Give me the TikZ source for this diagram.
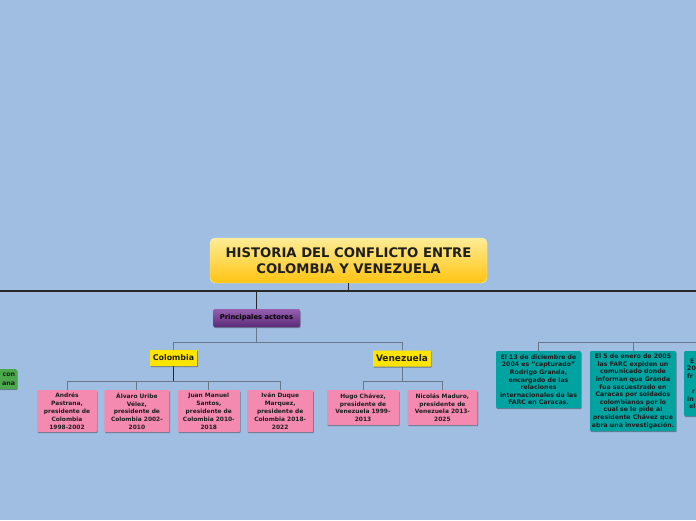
\documentclass[tikz,border=0pt]{standalone}
\usepackage{fontspec}
\setmainfont{DejaVu Sans}
\usetikzlibrary{positioning, shadows, calc}
\definecolor{mapbg}{RGB}{160,190,226}
\definecolor{titletop}{RGB}{255,236,150}
\definecolor{titlebot}{RGB}{255,196,18}
\definecolor{actorstop}{RGB}{150,96,176}
\definecolor{actorsbot}{RGB}{92,42,120}
\definecolor{countryyellow}{RGB}{255,228,0}
\definecolor{presidentpink}{RGB}{244,138,176}
\definecolor{eventteal}{RGB}{0,163,160}
\definecolor{sidegreen}{RGB}{76,168,76}
\definecolor{linedark}{RGB}{40,40,40}
\definecolor{linegray}{RGB}{104,120,138}
\definecolor{textdark}{RGB}{30,30,30}

\begin{document}
\begin{tikzpicture}[
    x=1pt, y=-1pt,
    node distance=7pt and 7pt,
    box/.style={rectangle, rounded corners=1pt, inner sep=1.5pt, align=center, text=textdark,
      font=\fontsize{5.9}{7.8}\selectfont\bfseries,
      drop shadow={shadow xshift=0.7pt, shadow yshift=-1pt, opacity=0.35, fill=black}},
    president/.style={box, fill=presidentpink, minimum height=42pt, anchor=north},
    event/.style={box, fill=eventteal, minimum width=86pt, anchor=north, font=\fontsize{6.2}{7.6}\selectfont\bfseries},
    country/.style={box, fill=countryyellow, rounded corners=0.5pt, minimum height=16pt, inner xsep=3pt},
    mainline/.style={draw=linedark, line width=1.4pt},
    conn/.style={draw=linegray, line width=1pt},
]

% Background and bounds
\fill[mapbg] (0,0) rectangle (696,520);
\useasboundingbox (0,0) rectangle (696,520);

% Title
\node[rectangle, rounded corners=5pt, top color=titletop, bottom color=titlebot, draw=titletop!80!white,
    minimum width=277pt, minimum height=45pt, align=center, text=textdark,
    font=\fontsize{13.2}{16.5}\selectfont\bfseries] (title) at (348.5,260.5)
    {HISTORIA DEL CONFLICTO ENTRE\\COLOMBIA Y VENEZUELA};

% Principales actores
\node[rectangle, rounded corners=2pt, top color=actorstop, bottom color=actorsbot,
    minimum width=87pt, minimum height=18pt, text=black, font=\fontsize{6.8}{8}\selectfont\bfseries,
    drop shadow={shadow xshift=0.7pt, shadow yshift=-1pt, opacity=0.35, fill=black}] (actors) at (256.5,318)
    {Principales actores};

% Countries
\node[country, font=\fontsize{7.9}{9}\selectfont\bfseries] (colombia) at (173.5,358) {Colombia};
\node[country, font=\fontsize{9}{10}\selectfont\bfseries] (venezuela) at (402,358.5) {Venezuela};

% Presidents of Colombia
\node[president, minimum width=60pt] (pastrana) at (67,390)
    {Andrés\\Pastrana,\\presidente de\\Colombia\\1998-2002};
\node[president, minimum width=65pt, right=7pt of pastrana] (uribe)
    {Álvaro Uribe\\Vélez,\\presidente de\\Colombia 2002-\\2010};
\node[president, minimum width=62pt, right=8pt of uribe] (santos)
    {Juan Manuel\\Santos,\\presidente de\\Colombia 2010-\\2018};
\node[president, minimum width=66pt, right=7pt of santos] (duque)
    {Iván Duque\\Marquez,\\presidente de\\Colombia 2018-\\2022};

% Presidents of Venezuela
\node[president, minimum width=72pt, minimum height=35pt] (chavez) at (363,390)
    {Hugo Chávez,\\presidente de\\Venezuela 1999-\\2013};
\node[president, minimum width=70pt, minimum height=35pt, right=8pt of chavez] (maduro)
    {Nicolás Maduro,\\presidente de\\Venezuela 2013-\\2025};

% Events
\node[event, minimum width=85pt, minimum height=57pt] (granda1) at (538.5,351)
    {El 13 de diciembre de\\2004 es "capturado"\\Rodrigo Granda,\\encargado de las\\relaciones\\internacionales de las\\FARC en Caracas.};
\node[event, minimum height=80pt] (granda2) at (633,351)
    {El 5 de enero de 2005\\las FARC expiden un\\comunicado donde\\informan que Granda\\fue secuestrado en\\Caracas por soldados\\colombianos por lo\\cual se le pide al\\presidente Chávez que\\abra una investigación.};
\node[event, minimum height=65pt, anchor=north west, align=left, text width=80pt] (granda3) at (684,351)
    {\hspace*{3pt}E\\20\\fr\\\mbox{}\\\hspace*{5pt}r\\in\\\hspace*{2pt}el};

% Cut-off node on the left
\node[box, fill=sidegreen, anchor=north east, minimum height=20pt, align=right, text width=40pt,
    font=\fontsize{6.4}{8.4}\selectfont\bfseries] (side) at (17,369)
    {con\\ana};

% Connectors
\coordinate (mainL) at (-5,291);
\coordinate (mainR) at (701,291);
\draw[mainline] (mainL) -- (mainR);
\draw[mainline] (title.south) -- (title.south |- mainL);
\draw[mainline] (actors.north |- mainL) -- (actors.north);

\coordinate (actorsbar) at ($(actors.south)+(0,15)$);
\draw[conn] (actors.south) -- (actorsbar);
\foreach \c in {colombia, venezuela}
  \draw[conn] (actorsbar) -| (\c.north);

\coordinate (colbar) at (173.5,381);
\draw[mainline, line width=1pt] (colombia.south) -- (colbar);
\foreach \p in {pastrana, uribe, santos, duque}
  \draw[conn] (colbar) -| (\p.north);

\coordinate (venbar) at (402,381);
\draw[conn] (venezuela.south) -- (venbar);
\foreach \p in {chavez, maduro}
  \draw[conn] (venbar) -| (\p.north);

\coordinate (eventbar) at (701,342);
\foreach \e in {granda1, granda2}
  \draw[conn] (eventbar) -| (\e.north);

\end{tikzpicture}
\end{document}
